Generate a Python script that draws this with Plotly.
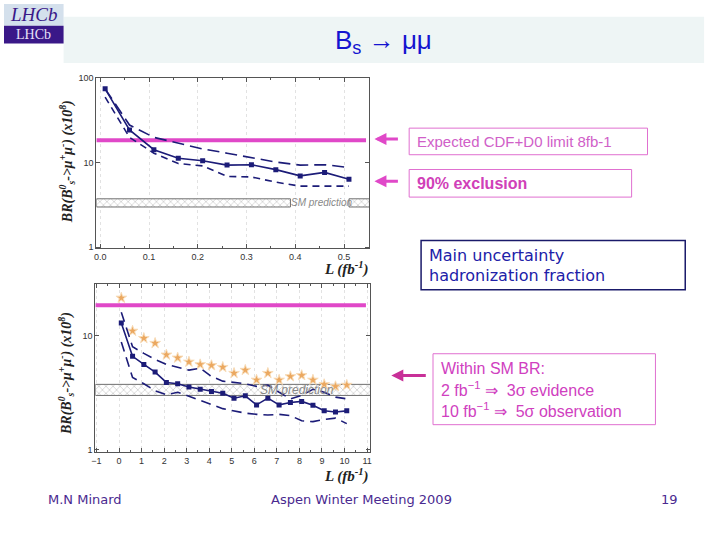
import math
import plotly.graph_objects as go

W, H = 720, 540

# ---------------- data ----------------
# top panel: L in fb^-1 (early running)
top_L = [0.01, 0.06, 0.11, 0.16, 0.21, 0.26, 0.31, 0.36, 0.41, 0.46, 0.51]
top_central = [75, 24.5, 14.3, 11.3, 10.6, 9.4, 9.5, 8.3, 7.0, 7.7, 6.4]
top_upper = [75, 28, 20, 17, 14.6, 13.0, 11.6, 10.2, 9.4, 9.5, 8.8]
top_lower = [60, 20, 13, 9.8, 9.2, 6.9, 6.8, 5.9, 5.3, 5.3, 5.3]

# bottom panel: L in fb^-1 (up to 10)
bot_L = [0.1, 0.6, 1.1, 1.6, 2.1, 2.6, 3.1, 3.6, 4.1, 4.6, 5.1, 5.6, 6.1, 6.6, 7.1,
         7.6, 8.1, 8.6, 9.1, 9.6, 10.1]
bot_central = [12.9, 6.6, 5.6, 4.8, 3.9, 3.8, 3.55, 3.4, 3.25, 3.14, 2.84, 2.98, 2.48,
               2.84, 2.48, 2.6, 2.66, 2.46, 2.2, 2.15, 2.2]
bot_upper = [16, 8.0, 7.0, 6.2, 5.6, 5.3, 5.0, 5.2, 4.4, 4.0, 3.9, 3.8, 3.6, 3.7, 3.2,
             2.8, 3.0, 3.4, 3.2, 2.9, 2.8]
bot_lower = [8.8, 4.3, 3.8, 3.3, 3.05, 3.2, 2.95, 2.7, 2.5, 2.3, 2.2, 2.1, 2.05, 2.02,
             2.05, 2.0, 1.8, 1.77, 1.85, 1.9, 1.7]
bot_stars = [21.4, 11, 9.5, 8.6, 6.8, 6.4, 5.9, 5.6, 5.5, 5.3, 4.7, 5.0, 4.1, 4.7, 4.1,
             4.4, 4.5, 4.1, 3.75, 3.6, 3.7]

cdf_d0_limit = 18.5
sm_low, sm_high = 3.0, 3.75

top_xticks = [0.0, 0.1, 0.2, 0.3, 0.4, 0.5]
top_xlabels = ["0.0", "0.1", "0.2", "0.3", "0.4", "0.5"]
bot_xticks = list(range(-1, 12))

# ---------------- helpers ----------------
def px(x):
    return x / W

def py(y):
    return 1 - y / H

NAVY = "#1c1c78"
MAG = "#e048c8"

fig = go.Figure()

# SM bands (hatched)
def band(x0, x1, xa, ya):
    fig.add_trace(go.Scatter(
        x=[x0, x1, x1, x0, x0], y=[sm_low, sm_low, sm_high, sm_high, sm_low],
        fill="toself", mode="lines", line=dict(color="#707070", width=1),
        fillcolor="white",
        fillpattern=dict(shape="x", fgcolor="#909090", bgcolor="white", size=5, solidity=0.25),
        xaxis=xa, yaxis=ya, hoverinfo="skip", showlegend=False))

band(-0.008, 0.39, "x", "y")
band(0.51, 0.552, "x", "y")
band(-1.05, 11.15, "x2", "y2")

# top panel lines
fig.add_trace(go.Scatter(x=[-0.008, 0.545], y=[cdf_d0_limit] * 2, mode="lines",
                         line=dict(color=MAG, width=4), xaxis="x", yaxis="y", showlegend=False))
fig.add_trace(go.Scatter(x=top_L, y=top_upper, mode="lines",
                         line=dict(color=NAVY, width=1.6, dash="12px,6px"), xaxis="x", yaxis="y",
                         showlegend=False))
fig.add_trace(go.Scatter(x=top_L, y=top_lower, mode="lines",
                         line=dict(color=NAVY, width=1.6, dash="7px,5px"), xaxis="x", yaxis="y",
                         showlegend=False))
fig.add_trace(go.Scatter(x=top_L, y=top_central, mode="lines+markers",
                         line=dict(color=NAVY, width=1.6),
                         marker=dict(symbol="square", size=5, color=NAVY),
                         xaxis="x", yaxis="y", showlegend=False))

# bottom panel lines
fig.add_trace(go.Scatter(x=[-1.05, 10.95], y=[cdf_d0_limit] * 2, mode="lines",
                         line=dict(color=MAG, width=4), xaxis="x2", yaxis="y2", showlegend=False))
fig.add_trace(go.Scatter(x=bot_L, y=bot_stars, mode="markers",
                         marker=dict(symbol="star", size=8, color="#eba860",
                                     line=dict(color="#f8dcb8", width=1)),
                         xaxis="x2", yaxis="y2", showlegend=False))
fig.add_trace(go.Scatter(x=bot_L, y=bot_upper, mode="lines",
                         line=dict(color=NAVY, width=1.6, dash="10px,6px"), xaxis="x2", yaxis="y2",
                         showlegend=False))
fig.add_trace(go.Scatter(x=bot_L, y=bot_lower, mode="lines",
                         line=dict(color=NAVY, width=1.6, dash="10px,6px"), xaxis="x2", yaxis="y2",
                         showlegend=False))
fig.add_trace(go.Scatter(x=bot_L, y=bot_central, mode="lines+markers",
                         line=dict(color=NAVY, width=1.6),
                         marker=dict(symbol="square", size=5, color=NAVY),
                         xaxis="x2", yaxis="y2", showlegend=False))

axis_common = dict(showline=True, linecolor="#555", linewidth=1, mirror="ticks",
                   ticks="inside", ticklen=4, tickcolor="#555",
                   tickfont=dict(family="Liberation Sans", size=9, color="#333"),
                   zeroline=False)

fig.update_layout(
    width=W, height=H, margin=dict(l=0, r=0, t=0, b=0),
    paper_bgcolor="white", plot_bgcolor="white", showlegend=False,
    xaxis=dict(domain=[px(93), px(368)], range=[-0.008, 0.552], anchor="y",
               tickvals=top_xticks, ticktext=top_xlabels,
               showgrid=True, gridcolor="#e2e2e2", griddash="dot",
               minor=dict(dtick=0.05, ticks="inside", ticklen=2, tickcolor="#555", showgrid=False),
               **axis_common),
    yaxis=dict(domain=[py(248), py(75)], type="log", range=[-0.012, 2.005], anchor="x",
               tickvals=[1, 10, 100], ticktext=["1", "10", "100"], showgrid=False,
               **axis_common),
    xaxis2=dict(domain=[px(92), px(369)], range=[-1.05, 11.15], anchor="y2",
                tickvals=bot_xticks, showgrid=True, gridcolor="#e2e2e2", griddash="dot",
                minor=dict(dtick=0.5, ticks="inside", ticklen=2, tickcolor="#555", showgrid=False),
                **axis_common),
    yaxis2=dict(domain=[py(455), py(284)], type="log", range=[-0.02, 1.454], anchor="x2",
                tickvals=[1, 10], ticktext=["1", "10"], showgrid=False, **axis_common),
)

shapes = []
annots = []

def note(x, y, s, font, xanchor="center", yanchor="middle", **kw):
    annots.append(dict(xref="paper", yref="paper", x=px(x), y=py(y), text=s,
                       showarrow=False, xanchor=xanchor, yanchor=yanchor, font=font, **kw))

# title band
shapes.append(dict(type="rect", xref="paper", yref="paper", x0=px(60), x1=px(705),
                   y0=py(60), y1=py(13), fillcolor="#eef5f5", line=dict(width=0), layer="below"))
note(382, 38, "B<sub>s</sub> \u2192 \u03bc\u03bc",
     dict(family="Liberation Sans", size=26, color="#1414d0"))

# logo
shapes.append(dict(type="rect", xref="paper", yref="paper", x0=0, x1=px(60),
                   y0=py(22), y1=py(0), fillcolor="#d4e0ec", line=dict(width=0)))
shapes.append(dict(type="rect", xref="paper", yref="paper", x0=0, x1=px(60),
                   y0=py(40), y1=py(22), fillcolor="#3a1888", line=dict(width=0)))
note(30, 11, "<i>LHCb</i>", dict(family="Liberation Serif", size=19, color="#3a1888"))
note(30, 31, "LHCb", dict(family="Liberation Serif", size=14, color="#e8e0f8"))

# axis titles
ytitle = "<b><i>BR(B<sup>0</sup><sub>s</sub>->\u03bc<sup>+</sup>\u03bc<sup>-</sup>) (x10<sup>8</sup>)</i></b>"
for yc in (160, 375):
    note(63, yc, ytitle, dict(family="Liberation Serif", size=14, color="#222"), textangle=-90)
for yc in (268, 479):
    note(345, yc, "<b><i>L (fb<sup>-1</sup>)</i></b>",
         dict(family="Liberation Serif", size=15, color="#222"))

# SM prediction labels (annotation y on log axes is given in log10 units)
sm_mid = 0.5 * (math.log10(sm_low) + math.log10(sm_high))
annots.append(dict(xref="x", yref="y", x=0.455, y=sm_mid,
                   text="<i>SM prediction</i>", showarrow=False, xanchor="center", yanchor="middle",
                   font=dict(family="Liberation Sans", size=10, color="#888")))
annots.append(dict(xref="x2", yref="y2", x=7.9, y=sm_mid,
                   text="<i>SM prediction</i>", showarrow=False, xanchor="center", yanchor="middle",
                   font=dict(family="Liberation Sans", size=12, color="#888")))

# arrows
for yy in (137, 180):
    annots.append(dict(xref="paper", yref="paper", x=px(373), y=py(yy), ax=25, ay=0,
                       text="", showarrow=True, arrowhead=2, arrowsize=0.8, arrowwidth=3,
                       arrowcolor=MAG))
annots.append(dict(xref="paper", yref="paper", x=px(390), y=py(377), ax=36, ay=0,
                   text="", showarrow=True, arrowhead=2, arrowsize=0.8, arrowwidth=3,
                   arrowcolor="#c83098"))

# text boxes
def box(x0, x1, y0, y1, color, width=1):
    shapes.append(dict(type="rect", xref="paper", yref="paper", x0=px(x0), x1=px(x1),
                       y0=py(y1), y1=py(y0), line=dict(color=color, width=width),
                       fillcolor="rgba(0,0,0,0)"))

def txt(x, y, s, color, size, family="Liberation Sans"):
    note(x, y, s, dict(family=family, size=size, color=color), xanchor="left")

box(408, 648, 126, 153, "#e070d0")
txt(414, 140, "Expected CDF+D0 limit 8fb-1", "#d060c8", 15)
box(408, 632, 168, 196, "#e070d0")
txt(414, 182, "<b>90% exclusion</b>", "#d040b8", 16)
box(420, 686, 240, 290, "#1a1a6a", 1.5)
txt(426, 255, "Main uncertainty", "#2020a8", 16, "DejaVu Sans")
txt(426, 276, "hadronization fraction", "#2020a8", 16, "DejaVu Sans")
box(432, 656, 355, 427, "#e070d0")
txt(438, 370, "Within SM BR:", "#d040c0", 16)
txt(438, 391, "2 fb<sup>\u22121</sup> \u21d2  3\u03c3 evidence", "#d040c0", 16)
txt(438, 412, "10 fb<sup>\u22121</sup> \u21d2  5\u03c3 observation", "#d040c0", 16)

# footer
foot = dict(family="DejaVu Sans", size=13, color="#4a2a90")
note(82, 503, "M.N Minard", foot)
note(360, 503, "Aspen Winter Meeting 2009", foot)
note(670, 503, "19", foot)

fig.update_layout(shapes=shapes, annotations=annots)
fig.write_html("out.html", config={"displayModeBar": False},
               post_script="document.body.style.margin='0px';")
